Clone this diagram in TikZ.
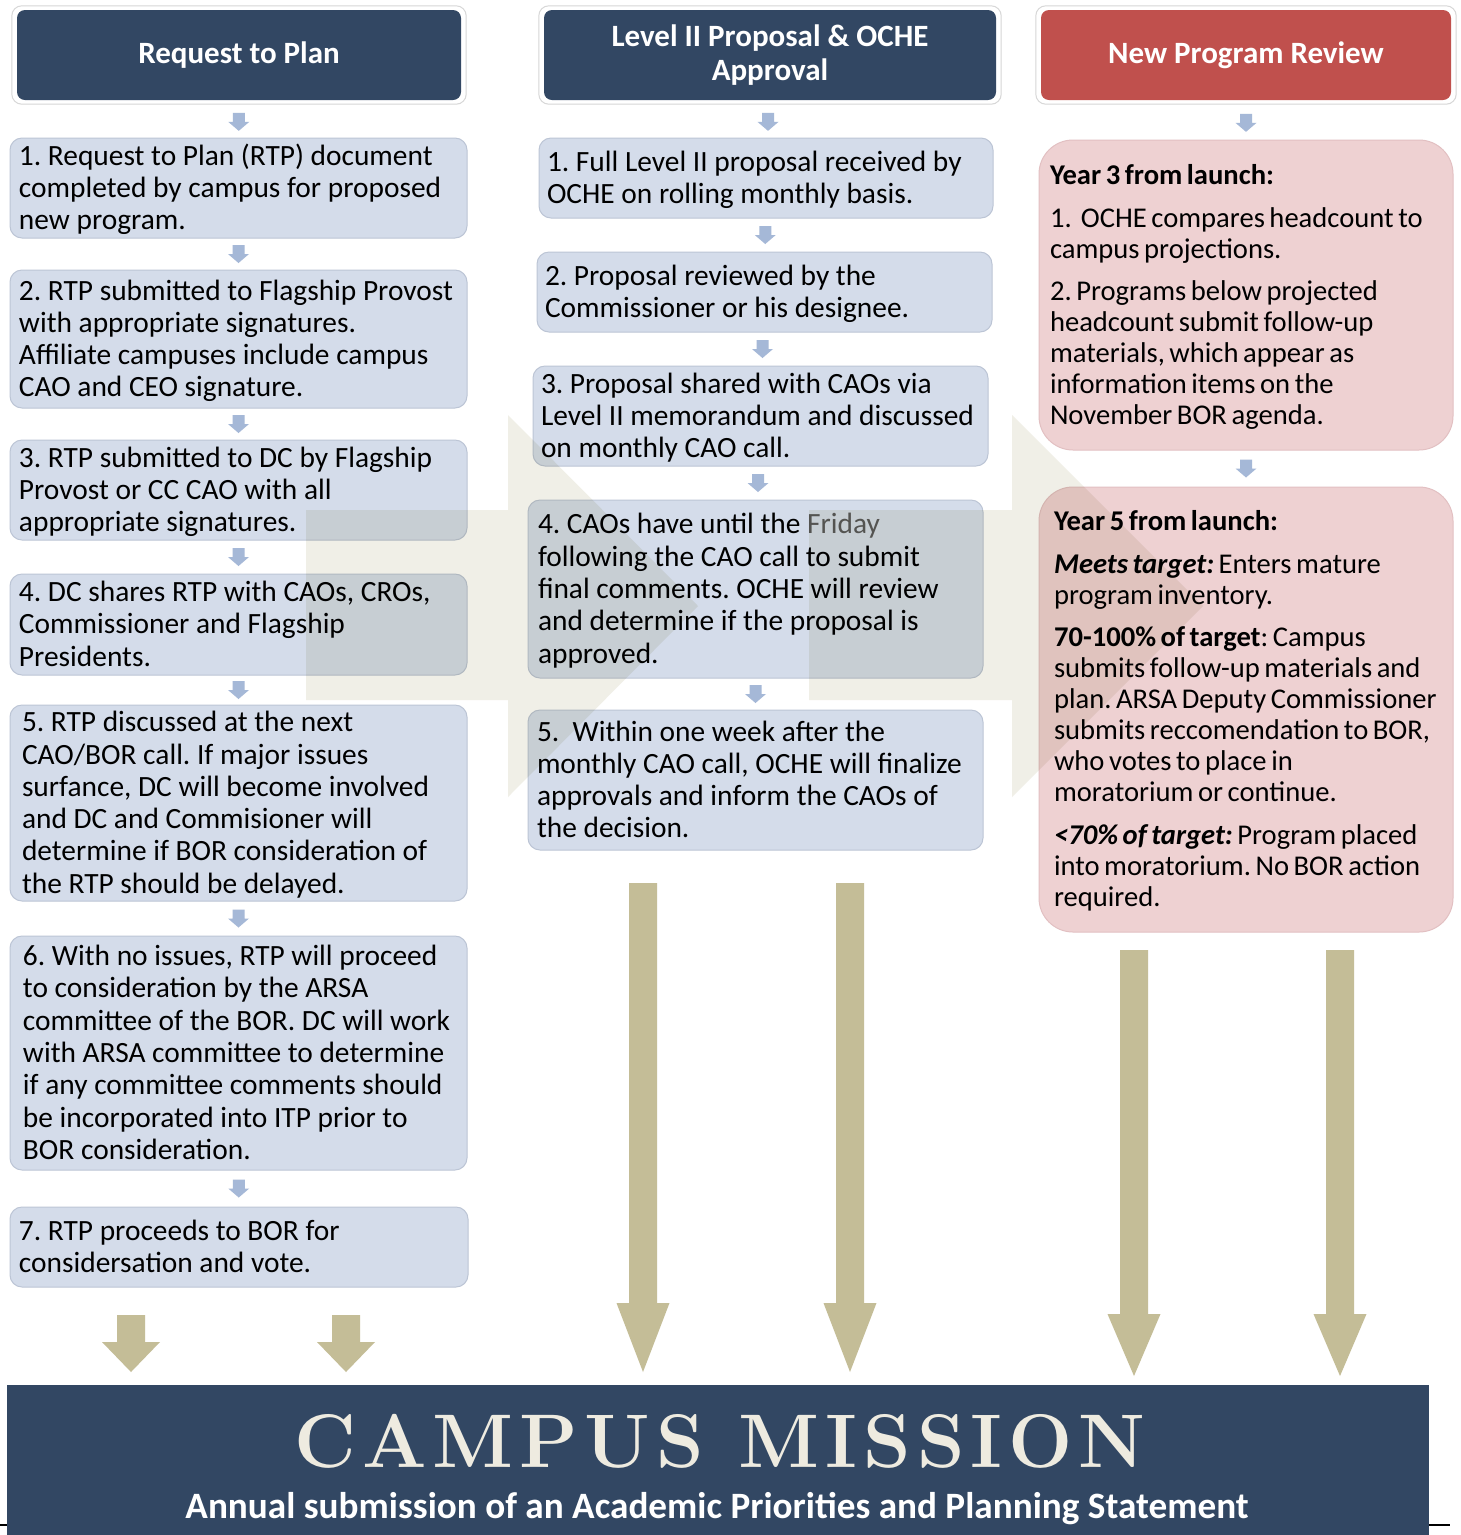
\documentclass[tikz,border=0pt]{standalone}
\usepackage{fontspec}
\setmainfont{Carlito}
\newfontfamily\titlefont[LetterSpace=8]{Latin Modern Roman}
\usetikzlibrary{calc,backgrounds}
\definecolor{navy}{RGB}{50,71,99}
\definecolor{redhdr}{RGB}{192,80,77}
\definecolor{boxfill}{RGB}{212,220,234}
\definecolor{boxline}{RGB}{188,197,213}
\definecolor{pinkfill}{RGB}{238,209,210}
\definecolor{pinkline}{RGB}{226,192,194}
\definecolor{connfill}{RGB}{165,184,215}
\definecolor{tanfill}{RGB}{196,189,151}
\definecolor{palefill}{RGB}{240,239,231}
\definecolor{cream}{RGB}{238,235,224}
\definecolor{framegrey}{RGB}{215,215,215}
\definecolor{fridaygrey}{RGB}{90,90,90}
\frenchspacing
\newcommand\bxfont{\fontsize{29.4}{32.3}\selectfont\frenchspacing}
\newcommand\pkfont{\fontsize{28.6}{31}\selectfont\frenchspacing\spaceskip=0.16em plus 0.04em minus 0.02em\relax}
\newcommand\hdfont{\fontsize{31}{34}\selectfont\bfseries}
% text block of fixed width, broken only where \\ is written (lowered 3pt inside its box)
\newcommand\bxlines[2]{\makebox[#1][l]{\raisebox{0pt}[\dimexpr\height+3pt][\dimexpr\depth-3pt]{\begin{tabular}{@{}l@{}}#2\end{tabular}}}}
\newcommand\conn[3][0]{%
  \fill[connfill] ($($(#2.south)!0.5!(#3.north)$)+(0,#1)$) ++(-6,-9) -- ++(12,0) -- ++(0,9)
    -- ++(4.5,0) -- ++(-10.5,9) -- ++(-10.5,-9) -- ++(4.5,0) -- cycle;}
\newcommand\tanarrow[6]{%
  \fill[tanfill] ({#1-#5},#2) -- ({#1+#5},#2) -- ({#1+#5},#3) -- ({#1+#6},#3)
    -- (#1,#4) -- ({#1-#6},#3) -- ({#1-#5},#3) -- cycle;}
\tikzset{
  hdr/.style={fill=navy, rounded corners=8pt, text=white, font=\hdfont,
    align=center, minimum height=90pt, inner sep=0pt},
  hdrframe/.style={draw=framegrey, fill=white, line width=1pt, rounded corners=10pt},
  bluebox/.style={draw=boxline, fill=boxfill, rounded corners=12pt, line width=1pt,
    inner xsep=0pt, inner ysep=0pt, font=\bxfont},
  pinkbox/.style={draw=pinkline, fill=pinkfill, rounded corners=34pt, line width=1pt,
    inner xsep=0pt, inner ysep=0pt, font=\pkfont},
}
\begin{document}
\begin{tikzpicture}[x=1pt,y=-1pt]
\useasboundingbox (0,0) rectangle (1461,1535);
% headers
\node[hdr, minimum width=444pt] (h1) at (239,55) {Request to Plan};
\node[hdr, minimum width=452pt] (h2) at (770,55) {Level II Proposal \& OCHE\\Approval};
\node[hdr, fill=redhdr, minimum width=410pt] (h3) at (1246,55) {New Program Review};
\begin{scope}[on background layer]
  \fill[white] (0,0) rectangle (1461,1535);
  \foreach \h in {h1,h2,h3}{
    \draw[hdrframe] ($(\h.north west)+(-5,-4)$) rectangle ($(\h.south east)+(5,4)$);}
\end{scope}
% column 1
\node[bluebox, minimum width=457pt, minimum height=100pt] (b1) at (238.5,188)
 {\bxlines{439pt}{1. Request to Plan (RTP) document\\completed by campus for proposed\\new program.}};
\node[bluebox, minimum width=457pt, minimum height=138pt] (b2) at (238.5,339)
 {\bxlines{439pt}{2. RTP submitted to Flagship Provost\\with appropriate signatures.\\Affiliate campuses include campus\\CAO and CEO signature.}};
\node[bluebox, minimum width=457pt, minimum height=100pt] (b3) at (238.5,490)
 {\bxlines{439pt}{3. RTP submitted to DC by Flagship\\Provost or CC CAO with all\\appropriate signatures.}};
\node[bluebox, minimum width=457pt, minimum height=101pt] (b4) at (238.5,624.5)
 {\bxlines{439pt}{4. DC shares RTP with CAOs, CROs,\\Commissioner and Flagship\\Presidents.}};
\node[bluebox, minimum width=457pt, minimum height=196pt] (b5) at (238.5,803)
 {\bxlines{433pt}{5. RTP discussed at the next\\CAO/BOR call. If major issues\\surfance, DC will become involved\\and DC and Commisioner will\\determine if BOR consideration of\\the RTP should be delayed.}};
\node[bluebox, minimum width=457pt, minimum height=234pt] (b6) at (238.5,1053)
 {\bxlines{431pt}{6. With no issues, RTP will proceed\\to consideration by the ARSA\\committee of the BOR. DC will work\\with ARSA committee to determine\\if any committee comments should\\be incorporated into ITP prior to\\BOR consideration.}};
\node[bluebox, minimum width=458pt, minimum height=80pt] (b7) at (239,1247)
 {\bxlines{440pt}{7. RTP proceeds to BOR for\\considersation and vote.}};
% column 2
\node[bluebox, minimum width=454pt, minimum height=80pt] (c1) at (766,178)
 {\bxlines{438pt}{1. Full Level II proposal received by\\OCHE on rolling monthly basis.}};
\node[bluebox, minimum width=455pt, minimum height=80pt] (c2) at (764.5,292)
 {\bxlines{439pt}{2. Proposal reviewed by the\\Commissioner or his designee.}};
\node[bluebox, minimum width=455pt, minimum height=100pt] (c3) at (760.5,416)
 {\bxlines{439pt}{3. Proposal shared with CAOs via\\Level II memorandum and discussed\\on monthly CAO call.}};
\node[bluebox, minimum width=455pt, minimum height=178pt] (c4) at (755.5,589)
 {\bxlines{435pt}{4. CAOs have until the {\color{fridaygrey}Friday}\\following the CAO call to submit\\final comments. OCHE will review\\and determine if the proposal is\\approved.}};
\node[bluebox, minimum width=455pt, minimum height=140pt] (c5) at (755.5,780)
 {\bxlines{437pt}{5.\ \ Within one week after the\\monthly CAO call, OCHE will finalize\\approvals and inform the CAOs of\\the decision.}};
% column 3
\node[pinkbox, minimum width=414pt, minimum height=310pt] (p1) at (1246,295)
 {\bxlines{392pt}{\textbf{Year 3 from launch:}\\[12pt]
  1.\ \ OCHE compares headcount to\\campus projections.\\[11pt]
  2. Programs below projected\\headcount submit follow-up\\materials, which appear as\\information items on the\\November BOR agenda.}};
\node[pinkbox, minimum width=414pt, minimum height=445pt] (p2) at (1246,709.5)
 {\bxlines{384pt}{\textbf{Year 5 from launch:}\\[12pt]
  \textbf{\textit{Meets target:}} Enters mature\\program inventory.\\[11pt]
  \textbf{70-100\% of target}: Campus\\submits follow-up materials and\\plan. ARSA Deputy Commissioner\\submits reccomendation to BOR,\\who votes to place in\\moratorium or continue.\\[12pt]
  \textbf{\textit{<70\% of target:}} Program placed\\into moratorium. No BOR action\\required.}};
% small connectors
\conn[3]{h1}{b1} \conn{b1}{b2} \conn{b2}{b3} \conn{b3}{b4} \conn{b4}{b5} \conn{b5}{b6} \conn{b6}{b7}
\conn[3]{h2}{c1} \conn{c1}{c2} \conn{c2}{c3} \conn{c3}{c4} \conn{c4}{c5}
\conn[3]{h3}{p1} \conn{p1}{p2}
% banner
\node[fill=navy, minimum width=1422pt, minimum height=150pt, inner sep=0pt] (mission) at (718,1460) {};
\node[anchor=base, text=cream, font=\titlefont\bfseries\fontsize{76}{76}\selectfont, inner sep=0pt] (title) at (720,1467) {CAMPUS MISSION};
\node[anchor=base, text=white, font=\fontsize{37.2}{40}\selectfont\bfseries, inner sep=0pt] (sub) at (717,1518)
 {Annual submission of an Academic Priorities and Planning Statement};
\draw[line width=1.5pt] (0,1525) -- (mission.west |- 0,1525);
\draw[line width=1.5pt] (mission.east |- 0,1525) -- (1450,1525);
% big tan arrows
\tanarrow{131}{1315}{1342}{1372}{14}{29}
\tanarrow{346}{1315}{1342}{1372}{14}{29}
\tanarrow{643}{883}{1303}{1372}{14}{26.5}
\tanarrow{850}{883}{1303}{1372}{14}{26.5}
\tanarrow{1134}{950}{1314}{1376}{14}{26.5}
\tanarrow{1340}{950}{1314}{1376}{14}{26.5}
% pale background arrows (multiplied over everything)
\fill[palefill, blend mode=multiply] (306,510) -- (508,510) -- (508,415) -- (698,606)
  -- (508,797) -- (508,700) -- (306,700) -- cycle;
\fill[palefill, blend mode=multiply] (809,510) -- (1012,510) -- (1012,415) -- (1203,606)
  -- (1012,797) -- (1012,700) -- (809,700) -- cycle;
\end{tikzpicture}
\end{document}
